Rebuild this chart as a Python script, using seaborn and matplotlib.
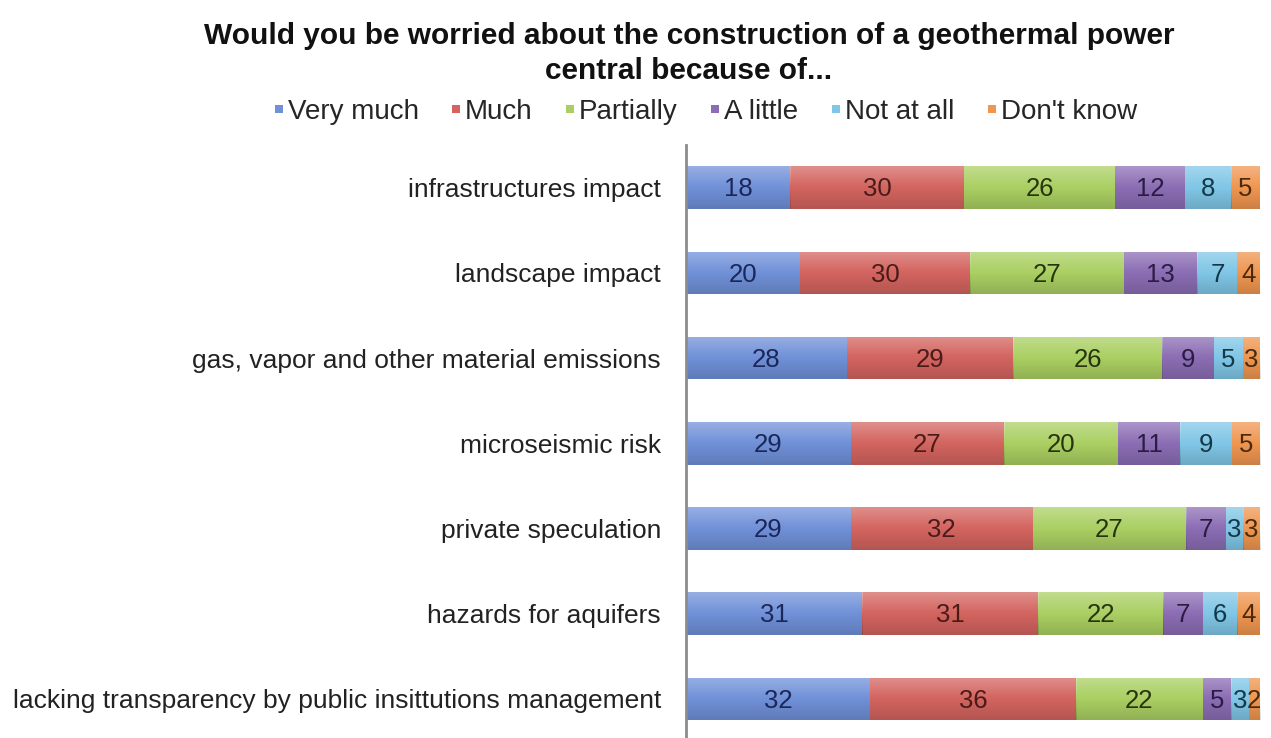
import numpy as np
import pandas as pd
import matplotlib
matplotlib.use("Agg")
import matplotlib.pyplot as plt
from matplotlib.lines import Line2D
import seaborn as sns

categories = [
    "infrastructures impact",
    "landscape impact",
    "gas, vapor and other material emissions",
    "microseismic risk",
    "private speculation",
    "hazards for aquifers",
    "lacking transparency by public insittutions management",
]
series = ["Very much", "Much", "Partially", "A little", "Not at all", "Don't know"]
very_much = [18, 20, 28, 29, 29, 31, 32]
much = [30, 30, 29, 27, 32, 31, 36]
partially = [26, 27, 26, 20, 27, 22, 22]
a_little = [12, 13, 9, 11, 7, 7, 5]
not_at_all = [8, 7, 5, 9, 3, 6, 3]
dont_know = [5, 4, 3, 5, 3, 4, 2]

colors = ["#7090d8", "#d3645f", "#aacf62", "#8b6db4", "#80c6e6", "#ef9650"]
label_colors = ["#1b275a", "#4a1b19", "#27350f", "#2a1c44", "#143848", "#4a2a0e"]
title = "Would you be worried about the construction of a geothermal power\ncentral because of..."

sns.set_theme(style="white")
plt.rcParams["font.family"] = ["Liberation Sans", "DejaVu Sans"]

vals = np.array([very_much, much, partially, a_little, not_at_all, dont_know], dtype=float)
totals = vals.sum(axis=0)
pct = vals / totals * 100.0  # 100% stacked
cum = np.cumsum(pct, axis=0)

fig = plt.figure(figsize=(12.71, 7.38), dpi=100)
ax = fig.add_axes([686 / 1271, -0.0047, (1260 - 686) / 1271, 0.808])

# draw from full (rightmost) to smallest so each visible segment shows
for i in range(len(series) - 1, -1, -1):
    df = pd.DataFrame({"cat": categories, "val": cum[i]})
    sns.barplot(data=df, x="val", y="cat", orient="h", color=colors[i],
                saturation=1, width=0.5, ax=ax, linewidth=0)

# subtle vertical gradient overlay on each segment (Excel-like shading)
n = 64
cmap_rgba = np.zeros((n, 1, 4))
for k in range(n):
    g = k / (n - 1)
    if g < 0.5:
        cmap_rgba[k] = [1, 1, 1, 0.28 * (1 - g / 0.5)]
    else:
        cmap_rgba[k] = [0, 0, 0, 0.15 * ((g - 0.5) / 0.5)]
for i in range(len(series)):
    for j in range(len(categories)):
        left = cum[i][j] - pct[i][j]
        right = cum[i][j]
        ax.imshow(cmap_rgba, extent=(left, right, j + 0.25, j - 0.25),
                  aspect="auto", interpolation="bilinear", zorder=3)

# value labels
for i in range(len(series)):
    for j in range(len(categories)):
        center = cum[i][j] - pct[i][j] / 2
        ax.text(center, j + 0.02, f"{int(vals[i][j])}", ha="center", va="center",
                fontsize=18.5, color=label_colors[i], zorder=5)

ax.set_xlim(0, 100)
ax.set_ylim(6.5, -0.5)
ax.set_xlabel("")
ax.set_ylabel("")
ax.set_xticks([])
ax.tick_params(axis="y", length=0, pad=18, labelsize=19, labelcolor="#222222")
for s in ["top", "right", "bottom"]:
    ax.spines[s].set_visible(False)
ax.spines["left"].set_color("#8c8c8c")
ax.spines["left"].set_linewidth(2)
ax.spines["left"].set_zorder(6)

fig.text(689 / 1271, 1 - 22 / 738, title, ha="center", va="top",
         fontsize=21.5, fontweight="bold", color="#111111", linespacing=1.3)

handles = [Line2D([0], [0], marker="s", linestyle="none", markersize=5.5,
                  markerfacecolor=c, markeredgewidth=0) for c in colors]
fig.legend(handles, series, loc="center", bbox_to_anchor=(705 / 1271, 1 - 112 / 738),
           ncol=6, frameon=False, fontsize=20, handlelength=0.4,
           handletextpad=0.12, columnspacing=1.15, borderpad=0)

fig.savefig("out.png", dpi=100)
